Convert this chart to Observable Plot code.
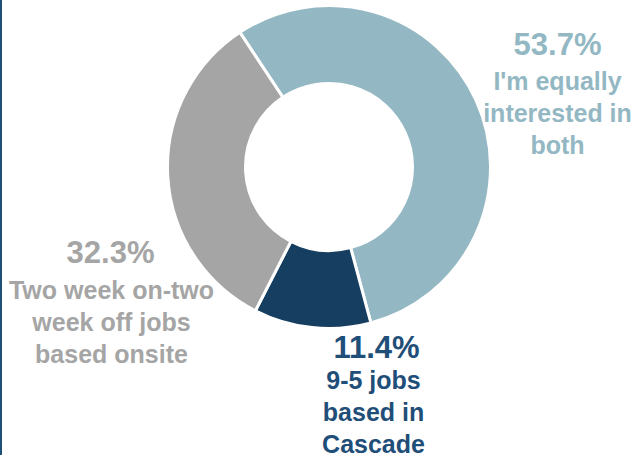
<!DOCTYPE html>
<html><head><meta charset="utf-8">
<script src="https://cdn.jsdelivr.net/npm/d3@7"></script>
<script src="https://cdn.jsdelivr.net/npm/@observablehq/plot@0.6"></script>
<style>
html,body{margin:0;padding:0;background:#fff;}
#chart{position:relative;width:644px;height:455px;overflow:hidden;}
#chart::before{content:"";position:absolute;left:0;top:0;width:2px;height:455px;background:#1F4E79;z-index:2;}
#chart svg{display:block;}
#chart svg text{font-family:"Liberation Sans", Arial, sans-serif !important;}
</style></head><body><div id="chart"></div>
<script>
// ---- data ----
const categories = ["I'm equally interested in both", "9-5 jobs based in Cascade", "Two week on-two week off jobs based onsite"];
const percents = [53.7, 11.4, 32.3];
const labelLines = [["I'm equally", "interested in", "both"], ["9-5 jobs", "based in", "Cascade"], ["Two week on-two", "week off jobs", "based onsite"]];
const sliceColors = ["#93B8C3", "#163E60", "#A5A5A5"];
const labelColors = ["#93B8C3", "#1F4E79", "#A5A5A5"];

// ---- layout ----
const W = 644, H = 455;
const CX = 329, CY = 167, R = 161.5, INNER = 83.5 / 161.5;
const START = -33.5 * Math.PI / 180;
const FONT = "Liberation Sans";
// label anchors (pixel layout: center x, cap-top y) for percent and description blocks
const labelLayout = [
  {pct: [557, 32], desc: [557, 67]},
  {pct: [376, 335], desc: [373, 366]},
  {pct: [110, 240], desc: [111, 276]}
];
const toX = px => (px - CX) / R, toY = py => (CY - py) / R;

const rows = categories.map((c, i) => ({
  category: c,
  pct: percents[i],
  pctText: percents[i].toFixed(1) + "%",
  desc: labelLines[i].join("\n"),
  textColor: labelColors[i],
  px: toX(labelLayout[i].pct[0]), py: toY(labelLayout[i].pct[1]),
  dx_: toX(labelLayout[i].desc[0]), dy_: toY(labelLayout[i].desc[1])
}));

const color = Plot.scale({color: {type: "ordinal", domain: categories, range: sliceColors}});
const xDomain = [-CX / R, (W - CX) / R];
const yDomain = [-(H - CY) / R, CY / R];
const xFallback = Plot.scale({x: {domain: xDomain, range: [0, W]}});
const yFallback = Plot.scale({y: {domain: yDomain, range: [H, 0]}});

const donut = (index, scales) => {
  const xs = scales && scales.x ? scales.x : (v => xFallback.apply(v));
  const ys = scales && scales.y ? scales.y : (v => yFallback.apply(v));
  const cx = xs(0), cy = ys(0), r = xs(1) - xs(0);
  const pie = d3.pie().sort(null).value(d => d.pct).startAngle(START).endAngle(START + 2 * Math.PI);
  const arc = d3.arc().innerRadius(r * INNER).outerRadius(r);
  const g = d3.create("svg:g").attr("transform", `translate(${cx},${cy})`);
  g.selectAll("path").data(pie(rows)).join("path")
    .attr("d", arc)
    .attr("fill", d => color.apply(d.data.category))
    .attr("stroke", "white")
    .attr("stroke-width", 3)
    .attr("stroke-linejoin", "miter");
  return g.node();
};

const chart = Plot.plot({
  width: W, height: H,
  margin: 0,
  x: {domain: xDomain, axis: null},
  y: {domain: yDomain, axis: null},
  style: {background: "white", fontFamily: FONT},
  marks: [
    donut,
    Plot.text(rows, {x: "px", y: "py", text: "pctText", fill: "textColor", fontSize: 31, fontWeight: "bold",
      fontFamily: FONT, textAnchor: "middle", lineAnchor: "top"}),
    Plot.text(rows, {x: "dx_", y: "dy_", text: "desc", fill: "textColor", fontSize: 25, fontWeight: "bold",
      fontFamily: FONT, textAnchor: "middle", lineAnchor: "top", lineHeight: 1.28})
  ]
});
document.getElementById("chart").appendChild(chart);
</script>
</body></html>
